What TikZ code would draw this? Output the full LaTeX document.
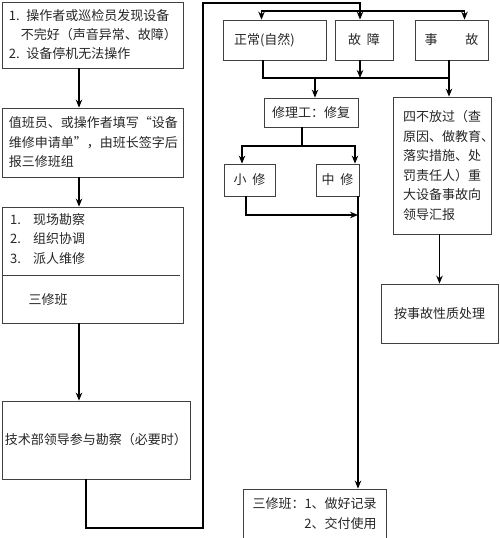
\documentclass[tikz,border=0pt]{standalone}
\usepackage{fontspec}
\setmainfont{Noto Sans CJK SC}
\usetikzlibrary{arrows.meta}
\begin{document}
\begin{tikzpicture}[x=1pt,y=-1pt,
  box/.style={draw=black!75,line width=0.8pt,inner sep=0pt,text=black!85,font=\fontsize{13}{19.5}\selectfont},
  txt/.style={inner sep=0pt,text=black!85,font=\fontsize{13}{19.5}\selectfont},
  link/.style={line width=1.2pt},
  arr/.style={link,-{Stealth[length=8pt,width=6.5pt]}}]
\useasboundingbox (0,0) rectangle (500,538);
\node[box,minimum width=181,minimum height=66,text width=167,align=left,font=\fontsize{13}{19}\selectfont] (find) at (92.5,35) {1. 操作者或巡检员发现设备\\\hspace*{12pt}不完好（声音异常、故障）\\2. 设备停机无法操作};
\node[box,minimum width=181,minimum height=69,text width=167,align=left] (duty) at (92.5,142.5) {值班员、或操作者填写“设备\\维修申请单”，由班长签字后\\报三修班组};
\node[box,minimum width=181,minimum height=116] (svc) at (92.5,265) {};
\draw[draw=black!75,line width=0.8pt] ([yshift=-10pt]svc.west) -- ([xshift=-3pt,yshift=-10pt]svc.east);
\node[txt,anchor=north west,align=left] (tasks) at (10,213) {1.\hspace{12pt}现场勘察\\2.\hspace{12pt}组织协调\\3.\hspace{12pt}派人维修};
\node[txt] (team) at (48,300) {三修班};
\node[box,minimum width=188,minimum height=78] (tech) at (96,440) {技术部领导参与勘察（必要时）};
\node[box,minimum width=103,minimum height=40,text width=81,align=left] (normal) at (274.5,40) {正常(自然)};
\node[box,minimum width=58,minimum height=40] (fault) at (364,40) {故\hspace{6pt}障};
\node[box,minimum width=73,minimum height=40] (accident) at (451.5,40) {事\hspace{28pt}故};
\node[box,minimum width=94,minimum height=29] (repair) at (311,112.5) {修理工：修复};
\node[box,minimum width=51,minimum height=32] (minor) at (249.5,180) {小\hspace{6pt}修};
\node[box,minimum width=43,minimum height=32] (medium) at (337.5,180) {中\hspace{6pt}修};
\node[box,minimum width=98,minimum height=137,text width=78,align=left] (report) at (442,165.5) {四不放过（查\\原因、做教育、\\落实措施、处\\罚责任人）重\\大设备事故向\\领导汇报};
\node[box,minimum width=117,minimum height=59] (handle) at (439.5,313.5) {按事故性质处理};
\node[box,minimum width=143,minimum height=49,text width=124,align=right] (record) at (314.5,513.5) {三修班：1、做好记录\\2、交付使用};
\coordinate (spine) at (79,0);
\coordinate (rail) at (203,528);
\coordinate (feed) at (360,3);
\coordinate (split) at (360,11);
\coordinate (merge) at (315,78);
\coordinate (mergeR) at (449,78);
\coordinate (fork) at (302,146);
\coordinate (drop) at (358,215);
\draw[arr] (find.south -| spine) -- (duty.north -| spine);
\draw[arr] (duty.south -| spine) -- (svc.north -| spine);
\draw[arr] (svc.south -| spine) -- (tech.north -| spine);
\draw[arr] ([xshift=-10pt]tech.south) |- (rail) |- (feed) -- (fault.north -| feed);
\draw[arr] (split) -| ([xshift=-13pt]normal.north);
\draw[arr] (split) -| ([xshift=13pt]accident.north);
\draw[link] ([xshift=-11.5pt]normal.south) |- (mergeR);
\draw[arr] (accident.south -| mergeR) -- (report.north -| mergeR);
\draw[arr] (fault.south -| feed) -- (merge -| feed);
\draw[arr] (merge) -- (repair.north -| merge);
\draw[link] (repair.south -| fork) -- (fork);
\draw[arr] (fork) -| ([xshift=-7.5pt]minor.north);
\draw[arr] (fork) -| ([xshift=-3pt]medium.north -| drop);
\draw[arr] ([xshift=-3.5pt]minor.south) |- (drop);
\draw[arr] (medium.south -| drop) -- (record.north -| drop);
\draw[arr] (report.south -| handle.north) -- (handle.north);
\end{tikzpicture}
\end{document}
